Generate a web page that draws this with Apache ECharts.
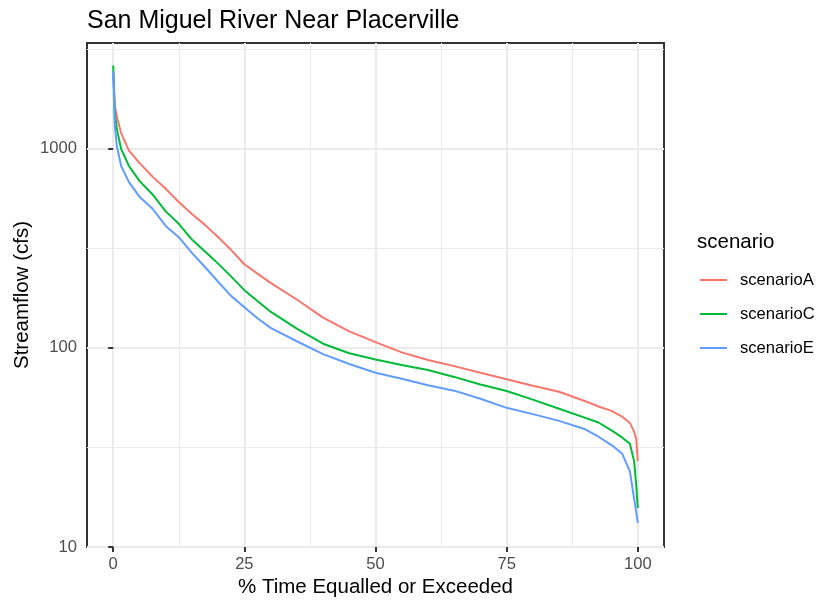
<!DOCTYPE html>
<html>
<head>
<meta charset="utf-8">
<script src="https://cdn.jsdelivr.net/npm/echarts@6/dist/echarts.min.js"></script>
<style>
  html, body { margin: 0; padding: 0; background: #fff; }
  #chart { width: 822px; height: 602px; }
</style>
</head>
<body>
<div id="chart"></div>
<script>
// % time equalled or exceeded
var pctTime = [0, 0.3, 0.7, 1.5, 3, 5, 7.5, 10, 12.5, 15, 17.5, 20, 22.5, 25, 27.5, 30, 35, 40, 45, 50,
  55, 60, 65, 70, 75, 80, 85, 90, 92.5, 95, 97, 98.5, 99.3, 99.7, 100]
// streamflow (cfs)
var scenarioA = [2400, 1650, 1450, 1200, 980, 850, 725, 630, 540, 470, 415, 360, 310, 263, 236, 212, 175, 142, 121, 107,
  95, 87, 81, 75, 69.6, 64.5, 60.2, 54, 50.8, 48.3, 45.2, 42, 38, 35, 27]
var scenarioC = [2620, 1520, 1250, 1000, 820, 690, 590, 485, 420, 350, 305, 265, 228, 195, 172, 152, 125, 105, 94, 87.5,
  82, 77.5, 71.5, 65.5, 60.8, 55, 49.5, 44.5, 42.2, 38.5, 35.5, 33, 27, 20.6, 15.7]
var scenarioE = [2450, 1300, 1030, 822, 680, 575, 500, 410, 360, 300, 255, 215, 182, 160, 141, 126, 108, 93, 83, 75,
  70, 65, 61, 55.5, 50, 46.5, 43, 39, 35.8, 32.5, 29.5, 24, 17.5, 15, 13.2]

var seriesNames = ['scenarioA', 'scenarioC', 'scenarioE']
var seriesColors = ['#F8766D', '#00BA38', '#619CFF']
var xTicks = [0, 25, 50, 75, 100]
var xMinor = [12.5, 37.5, 62.5, 87.5]
var yTicks = [10, 100, 1000]
var yMinor = [31.62, 316.2, 3162]

var font = 'Liberation Sans'
var chart = echarts.init(document.getElementById('chart'))

function pairs(ys) {
  return pctTime.map(function (x, i) { return [x, ys[i]] })
}

var allValues = [scenarioA, scenarioC, scenarioE]
var series = seriesNames.map(function (name, i) {
  return {
    name: name,
    type: 'line',
    xAxisIndex: 0,
    yAxisIndex: 0,
    data: pairs(allValues[i]),
    showSymbol: false,
    symbol: 'none',
    animation: false,
    lineStyle: { color: seriesColors[i], width: 2 },
    itemStyle: { color: seriesColors[i] }
  }
})

var gridLine = { show: true, lineStyle: { color: '#EBEBEB', width: 2 } }
var gridLineMinor = { show: true, lineStyle: { color: '#EBEBEB', width: 1 } }

chart.setOption({
  animation: false,
  backgroundColor: '#ffffff',
  title: [{
    text: 'San Miguel River Near Placerville',
    left: 82,
    top: 4,
    textStyle: { fontFamily: font, fontSize: 25, fontWeight: 'normal', color: '#000' }
  }, {
    text: 'scenario',
    left: 692,
    top: 227,
    textStyle: { fontFamily: font, fontSize: 20.5, fontWeight: 'normal', color: '#000' }
  }],
  legend: {
    orient: 'vertical',
    left: 695,
    top: 265,
    icon: 'rect',
    itemWidth: 27,
    itemHeight: 2,
    itemGap: 14,
    data: seriesNames,
    textStyle: { fontFamily: font, fontSize: 16.6, color: '#000', lineHeight: 20, padding: [0, 0, 0, 8] }
  },
  grid: {
    left: 87,
    right: 158,
    top: 43,
    bottom: 55,
    show: true,
    borderColor: '#333333',
    borderWidth: 2,
    containLabel: false,
    outerBoundsMode: 'none'
  },
  xAxis: [{
    type: 'value',
    min: -5,
    max: 105,
    name: '% Time Equalled or Exceeded',
    nameLocation: 'middle',
    nameGap: 30,
    nameMoveOverlap: false,
    nameTextStyle: { fontFamily: font, fontSize: 20.5, color: '#000' },
    axisLine: { show: false },
    axisTick: { show: true, length: 5, customValues: xTicks, lineStyle: { color: '#333333', width: 2 } },
    axisLabel: { customValues: xTicks, margin: 9, fontFamily: font, fontSize: 16.6, color: '#4D4D4D' },
    splitLine: gridLine
  }, {
    type: 'value',
    min: -5,
    max: 105,
    axisLine: { show: false },
    axisTick: { show: false, customValues: xMinor },
    axisLabel: { show: false, customValues: xMinor },
    splitLine: gridLineMinor
  }],
  yAxis: [{
    type: 'log',
    logBase: 10,
    min: 10,
    max: 3400,
    name: 'Streamflow (cfs)',
    nameLocation: 'middle',
    nameGap: 54,
    nameMoveOverlap: false,
    nameTextStyle: { fontFamily: font, fontSize: 20.5, color: '#000' },
    axisLine: { show: false },
    axisTick: { show: true, length: 5, customValues: yTicks, lineStyle: { color: '#333333', width: 2 } },
    axisLabel: {
      customValues: yTicks,
      margin: 10,
      fontFamily: font,
      fontSize: 16.6,
      color: '#4D4D4D',
      formatter: function (v) { return String(Math.round(v)) }
    },
    splitLine: gridLine
  }, {
    type: 'log',
    logBase: 10,
    min: 10,
    max: 3400,
    axisLine: { show: false },
    axisTick: { show: false, customValues: yMinor },
    axisLabel: { show: false, customValues: yMinor },
    splitLine: gridLineMinor
  }],
  series: series
})
</script>
</body>
</html>
